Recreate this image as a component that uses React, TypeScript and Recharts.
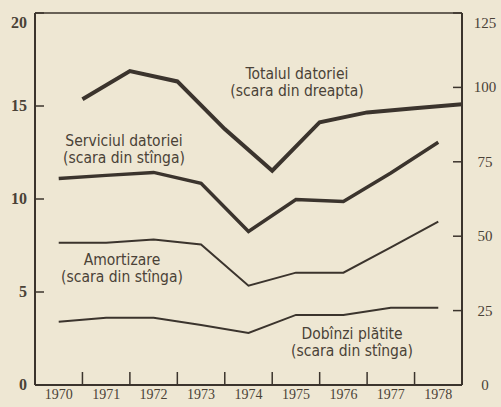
import React from "react";
import { Line, LineChart, ReferenceLine, XAxis, YAxis } from "recharts";

// years (band centres) and year-ends (where the total debt is plotted)
const YEARS = [1970, 1971, 1972, 1973, 1974, 1975, 1976, 1977, 1978];
const YEAR_ENDS = [1970.5, 1971.5, 1972.5, 1973.5, 1974.5, 1975.5, 1976.5, 1977.5, 1978.5];
const YEAR_MARKS = [1970.5, 1971.5, 1972.5, 1973.5, 1974.5, 1975.5, 1976.5, 1977.5];

// right scale
const TOTAL_DEBT = [96, 105.5, 102, 86, 72, 88.3, 91.6, 93, 94.3];
// left scale
const DEBT_SERVICE = [11.1, 11.27, 11.43, 10.84, 8.25, 9.97, 9.87, 11.4, 13.05];
const AMORTIZATION = [7.65, 7.65, 7.82, 7.55, 5.34, 6.04, 6.04, 7.4, 8.79];
const INTEREST_PAID = [3.4, 3.61, 3.61, 3.23, 2.8, 3.77, 3.77, 4.15, 4.15];

const LEFT_TICKS = [0, 5, 10, 15, 20];
const RIGHT_TICKS = [0, 25, 50, 75, 100, 125];

const INK = "#3b342d";
const TEXT = "#4a4237";
const PAPER = "#eee7d3";
const SERIF = "'Liberation Serif', 'DejaVu Serif', serif";
const NARROW = "'DejaVu Sans Condensed', 'Liberation Sans Narrow', 'Liberation Sans', sans-serif";

const X_TICKS = [...YEARS, ...YEAR_MARKS].sort((a, b) => a - b);

const totalData = YEAR_ENDS.map((x, i) => ({ x, total: TOTAL_DEBT[i] }));
const leftData = YEARS.map((x, i) => ({
  x,
  service: DEBT_SERVICE[i],
  amort: AMORTIZATION[i],
  interest: INTEREST_PAID[i],
}));

// year labels under the axis, year boundaries as short marks pointing up
function YearTick(props: any) {
  const { x, y, payload } = props;
  if (!Number.isInteger(payload.value)) {
    return <line x1={x} x2={x} y1={y - 3} y2={y - 16} stroke={INK} strokeWidth={1.5} />;
  }
  return (
    <text x={x} y={y} dy={11} textAnchor="middle" fill={TEXT} fontFamily={SERIF} fontSize={14}>
      {payload.value}
    </text>
  );
}

function LeftTick(props: any) {
  const { x, y, payload } = props;
  const top = payload.value === 20;
  return (
    <g>
      <line x1={x + 8} x2={x + 17} y1={y} y2={y} stroke={INK} strokeWidth={1.5} />
      <text
        x={x}
        y={y + (top ? 10 : 0)}
        dy={5}
        textAnchor="end"
        fill={TEXT}
        fontFamily={SERIF}
        fontWeight="bold"
        fontSize={16}
      >
        {payload.value}
      </text>
    </g>
  );
}

function RightTick(props: any) {
  const { x, y, payload } = props;
  const top = payload.value === 125;
  return (
    <g>
      <line x1={x - 9} x2={x} y1={y} y2={y} stroke={INK} strokeWidth={1.5} />
      <text
        x={x + 23}
        y={y + (top ? 10 : 0)}
        dy={5}
        textAnchor="middle"
        fill={TEXT}
        fontFamily={SERIF}
        fontSize={15}
      >
        {payload.value}
      </text>
    </g>
  );
}

function Note({ x, y, lines }: { x: number; y: number; lines: string[] }) {
  return (
    <div
      style={{
        position: "absolute",
        left: x,
        top: y,
        transform: "translateX(-50%)",
        fontFamily: NARROW,
        fontSize: 15.5,
        lineHeight: "16.5px",
        color: TEXT,
        whiteSpace: "nowrap",
        textAlign: "center",
      }}
    >
      {lines.map((l) => (
        <div key={l}>{l}</div>
      ))}
    </div>
  );
}

export default function App() {
  return (
    <div
      style={{
        position: "fixed",
        left: 0,
        top: 0,
        width: 501,
        height: 407,
        background: PAPER,
      }}
    >
      <LineChart width={501} height={407} margin={{ top: 13, right: 0, left: 0, bottom: 0 }}>
        <XAxis
          xAxisId="years"
          type="number"
          dataKey="x"
          domain={[1969.5, 1978.5]}
          ticks={X_TICKS}
          interval={0}
          allowDataOverflow
          height={22}
          tickSize={0}
          tickMargin={3}
          tickLine={false}
          axisLine={{ stroke: INK, strokeWidth: 2 }}
          tick={<YearTick />}
        />
        <YAxis
          yAxisId="left"
          domain={[0, 20]}
          ticks={LEFT_TICKS}
          width={35}
          tickSize={0}
          tickMargin={8}
          tickLine={false}
          axisLine={{ stroke: INK, strokeWidth: 2 }}
          tick={<LeftTick />}
        />
        <YAxis
          yAxisId="right"
          orientation="right"
          domain={[0, 125]}
          ticks={RIGHT_TICKS}
          width={39}
          tickSize={0}
          tickMargin={0}
          tickLine={false}
          axisLine={{ stroke: INK, strokeWidth: 2 }}
          tick={<RightTick />}
        />
        <ReferenceLine yAxisId="left" xAxisId="years" y={20} stroke={INK} strokeWidth={1.5} />
        <Line
          data={totalData}
          xAxisId="years"
          yAxisId="right"
          dataKey="total"
          type="linear"
          stroke={INK}
          strokeWidth={4}
          dot={false}
          isAnimationActive={false}
        />
        <Line
          data={leftData}
          xAxisId="years"
          yAxisId="left"
          dataKey="service"
          type="linear"
          stroke={INK}
          strokeWidth={3.5}
          dot={false}
          isAnimationActive={false}
        />
        <Line
          data={leftData}
          xAxisId="years"
          yAxisId="left"
          dataKey="amort"
          type="linear"
          stroke={INK}
          strokeWidth={2}
          dot={false}
          isAnimationActive={false}
        />
        <Line
          data={leftData}
          xAxisId="years"
          yAxisId="left"
          dataKey="interest"
          type="linear"
          stroke={INK}
          strokeWidth={2}
          dot={false}
          isAnimationActive={false}
        />
      </LineChart>
      <Note x={297} y={66} lines={["Totalul datoriei", "(scara din dreapta)"]} />
      <Note x={124} y={133} lines={["Serviciul datoriei", "(scara din stînga)"]} />
      <Note x={122} y={252} lines={["Amortizare", "(scara din stînga)"]} />
      <Note x={352} y={326} lines={["Dobînzi plătite", "(scara din stînga)"]} />
    </div>
  );
}
